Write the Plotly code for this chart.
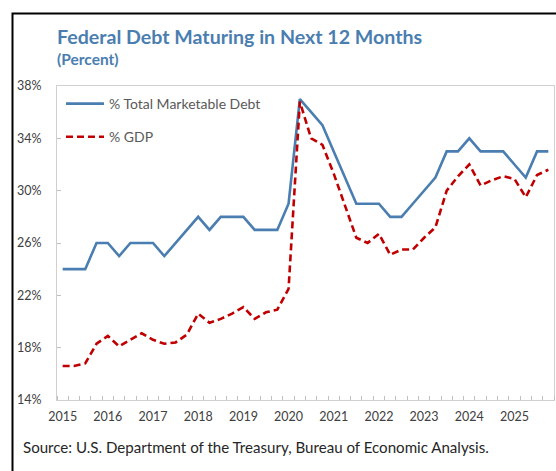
import plotly.graph_objects as go

# Quarterly observations, 2015 Q1 through 2025 Q4
years = [str(y) for y in range(2015, 2026)]
quarters = [f"{y} Q{q}" for y in range(2015, 2026) for q in range(1, 5)]

pct_marketable = [24, 24, 24, 26, 26, 25, 26, 26, 26, 25, 26, 27,
                  28, 27, 28, 28, 28, 27, 27, 27, 29, 37, 36, 35,
                  33, 31, 29, 29, 29, 28, 28, 29, 30, 31, 33, 33,
                  34, 33, 33, 33, 32, 31, 33, 33]

pct_gdp = [16.6, 16.6, 16.8, 18.3, 18.9, 18.1, 18.6, 19.1, 18.6, 18.3, 18.4, 19.0,
           20.6, 19.9, 20.2, 20.6, 21.1, 20.2, 20.7, 20.9, 22.5, 36.8, 34.0, 33.5,
           31.3, 28.9, 26.4, 26.0, 26.7, 25.1, 25.5, 25.5, 26.4, 27.2, 30.0, 31.1,
           32.0, 30.4, 30.8, 31.1, 30.9, 29.5, 31.2, 31.6]

x_idx = list(range(len(quarters)))
year_ticks = [i for i, q in enumerate(quarters) if q.endswith("Q1")]

BLUE = "#4a7eb0"
RED = "#c00000"
FONT = "Lato"

fig = go.Figure()
fig.add_trace(go.Scatter(
    x=x_idx, y=pct_marketable, mode="lines", name="% Total Marketable Debt",
    line=dict(color=BLUE, width=2.6), legendgroup="a",
    customdata=quarters, hovertemplate="%{customdata}: %{y}%<extra></extra>"))
fig.add_trace(go.Scatter(
    x=x_idx, y=pct_gdp, mode="lines", name="% GDP",
    line=dict(color=RED, width=2.6, dash="7px,4px"), legendgroup="b",
    customdata=quarters, hovertemplate="%{customdata}: %{y}%<extra></extra>"))

W, H = 556, 471
L, R, T, B = 57, 2, 86, 71
pw, ph = W - L - R, H - T - B

def px(x):
    return (x - L) / pw

def py(y):
    return (H - B - y) / ph

fig.update_layout(
    width=W, height=H,
    margin=dict(l=L, r=R, t=T, b=B, autoexpand=False),
    paper_bgcolor="white", plot_bgcolor="white",
    font=dict(family=FONT, color="#404040", size=12),
    showlegend=True,
    legend=dict(x=px(61), y=py(88), xanchor="left", yanchor="top",
                bgcolor="rgba(0,0,0,0)", traceorder="grouped",
                tracegroupgap=12, itemwidth=38,
                font=dict(family=FONT, size=14, color="#595959")),
    xaxis=dict(
        range=[-0.5, len(quarters) - 0.5],
        tickmode="array", tickvals=year_ticks, ticktext=years,
        ticks="", showgrid=False, zeroline=False,
        showline=True, linecolor="#d0d0d0", linewidth=1, mirror=True,
        ticklabelstandoff=5,
        tickfont=dict(family=FONT, size=12.5, color="#404040"),
        minor=dict(tick0=-0.5, dtick=1, ticks="inside", ticklen=4,
                   tickcolor="#c0c0c0", tickwidth=1, showgrid=False),
        fixedrange=True),
    yaxis=dict(
        range=[14, 38], dtick=4, tick0=14, ticksuffix="%",
        ticks="inside", ticklen=4, tickcolor="#c0c0c0",
        showgrid=False, zeroline=False,
        showline=True, linecolor="#d0d0d0", linewidth=1, mirror=True,
        ticklabelstandoff=12,
        tickfont=dict(family=FONT, size=12.5, color="#404040"),
        fixedrange=True),
)

# Outer frame around the whole chart
fig.add_shape(type="rect", xref="paper", yref="paper",
              x0=px(12.5), x1=px(W + 20), y0=py(H + 20), y1=py(13.5),
              line=dict(color="black", width=2), fillcolor="rgba(0,0,0,0)",
              layer="above")

fig.add_annotation(text="<b>Federal Debt Maturing in Next 12 Months</b>",
                   xref="paper", yref="paper", x=px(55), y=py(36),
                   xanchor="left", yanchor="middle", showarrow=False,
                   font=dict(family=FONT, size=19.6, color=BLUE))
fig.add_annotation(text="<b>(Percent)</b>",
                   xref="paper", yref="paper", x=px(55), y=py(59),
                   xanchor="left", yanchor="middle", showarrow=False,
                   font=dict(family=FONT, size=15.5, color=BLUE))
fig.add_annotation(text="Source: U.S. Department of the Treasury, Bureau of Economic Analysis.",
                   xref="paper", yref="paper", x=px(21), y=py(447),
                   xanchor="left", yanchor="middle", showarrow=False,
                   font=dict(family=FONT, size=15.1, color="#262626"))

fig.write_html("out.html")
